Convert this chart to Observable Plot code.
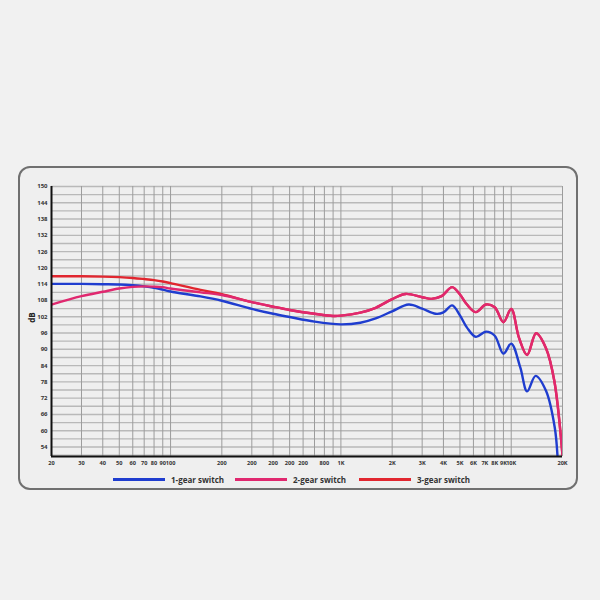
<!DOCTYPE html>
<html>
<head>
<meta charset="utf-8">
<script src="https://cdn.jsdelivr.net/npm/d3@7"></script>
<script src="https://cdn.jsdelivr.net/npm/@observablehq/plot@0.6"></script>
<style>
  html, body { margin: 0; padding: 0; }
  body { width: 600px; height: 600px; background: #f1f1f1; position: relative; overflow: hidden; font-family: "Open Sans", "DejaVu Sans", sans-serif; }
  #box { position: absolute; left: 18px; top: 166px; width: 560px; height: 324px; box-sizing: border-box; border: 2px solid #707070; border-radius: 12px; background: #efefef; }
  #chart { position: absolute; left: 0; top: 166px; }
  #legend { position: absolute; top: 471px; left: 0; width: 600px; height: 16px; }
  .item { position: absolute; top: 0; height: 16px; display: flex; align-items: center; font-size: 8px; font-weight: 700; color: #333; white-space: nowrap; }
  .swatch { width: 52px; height: 3px; margin-right: 6px; }
  #ylab { position: absolute; left: 26px; top: 312px; font-size: 8px; font-weight: 700; color: #222; transform: rotate(-90deg); transform-origin: center; }
</style>
</head>
<body>
<div id="box"></div>
<div id="chart"></div>
<div id="ylab">dB</div>
<div id="legend"></div>
<script>
// ---- data ----
const seriesNames = ["1-gear switch", "2-gear switch", "3-gear switch"];
const seriesColors = ["#1f3dcf", "#e0286f", "#e1262f"];

const gear1Freq = [20, 30, 40, 50, 60, 70, 80, 90, 100, 150, 200, 300, 400, 500, 700, 1000, 1300, 1600, 2000, 2500, 3000, 3600, 4000, 4500, 5000, 5500, 6200, 7100, 8000, 9000, 10000, 11300, 12400, 13900, 16000, 18000, 18700];
const gear1dB   = [114.1, 114.1, 114.0, 113.9, 113.6, 113.2, 112.7, 112.0, 111.3, 109.5, 107.9, 104.9, 103.1, 101.9, 100.2, 99.2, 99.8, 101.4, 104.0, 106.5, 105.0, 103.1, 103.6, 106.2, 102.5, 98.0, 94.6, 96.5, 95.0, 88.4, 92.1, 83.3, 74.5, 80.2, 74.7, 61.3, 50.5];

const gear2Freq = [20, 30, 40, 50, 60, 70, 80, 90, 100, 150, 200, 300, 400, 500, 700, 900, 1000, 1300, 1600, 2000, 2400, 3000, 3400, 3900, 4500, 5000, 5500, 6200, 7100, 8000, 9000, 10000, 11100, 12400, 14000, 16000, 17900, 20000];
const gear2dB   = [106.5, 109.6, 111.2, 112.4, 113.0, 113.2, 113.1, 112.9, 112.4, 111.0, 110.0, 107.4, 105.7, 104.5, 103.1, 102.3, 102.4, 103.5, 105.3, 108.5, 110.4, 109.2, 108.6, 109.6, 112.9, 110.2, 106.5, 103.7, 106.5, 105.5, 100.0, 104.9, 94.3, 87.9, 95.9, 90.4, 78.4, 50.9];

const gear3Freq = [20, 30, 40, 50, 60, 70, 80, 90, 100, 150, 200, 300, 400, 500, 700, 900, 1000, 1300, 1600, 2000, 2400, 3000, 3400, 3900, 4500, 5000, 5500, 6200, 7100, 8000, 9000, 10000, 11100, 12400, 14000, 16000, 17900, 20000];
const gear3dB   = [116.9, 116.9, 116.8, 116.6, 116.3, 115.9, 115.5, 115.0, 114.4, 111.9, 110.3, 107.4, 105.7, 104.5, 103.1, 102.3, 102.4, 103.5, 105.3, 108.5, 110.4, 109.2, 108.6, 109.6, 112.9, 110.2, 106.5, 103.7, 106.5, 105.5, 100.0, 104.9, 94.3, 87.9, 95.9, 90.4, 78.4, 50.9];

const xTickValues = [20, 30, 40, 50, 60, 70, 80, 90, 100, 200, 300, 400, 500, 600, 800, 1000, 2000, 3000, 4000, 5000, 6000, 7000, 8000, 9000, 10000, 20000];
const xTickLabels = ["20", "30", "40", "50", "60", "70", "80", "90", "100", "200", "200", "200", "200", "200", "800", "1K", "2K", "3K", "4K", "5K", "6K", "7K", "8K", "9K", "10K", "20K"];
const xGridValues = [30, 40, 50, 60, 70, 80, 90, 100, 200, 300, 400, 500, 600, 700, 800, 900, 1000, 2000, 3000, 4000, 5000, 6000, 7000, 8000, 9000, 10000, 20000];
const yTickValues = [54, 60, 66, 72, 78, 84, 90, 96, 102, 108, 114, 120, 126, 132, 138, 144, 150];
const yGridValues = [51, 54, 57, 60, 63, 66, 69, 72, 75, 78, 81, 84, 87, 90, 93, 96, 99, 102, 105, 108, 111, 114, 117, 120, 123, 126, 129, 132, 135, 138, 141, 144, 147, 150];
const yDomain = [50.5, 150];
const xDomain = [20, 20000];

// ---- build ----
const toRows = (fs, vs, name) => fs.map((f, i) => ({f, v: vs[i], name}));
const g1 = toRows(gear1Freq, gear1dB, seriesNames[0]);
const g2 = toRows(gear2Freq, gear2dB, seriesNames[1]);
const g3 = toRows(gear3Freq, gear3dB, seriesNames[2]);
const xTicks = xTickValues.map((v, i) => ({v, label: xTickLabels[i]}));

const chart = Plot.plot({
  width: 600,
  height: 305,
  marginLeft: 51,
  marginRight: 38,
  marginTop: 20,
  marginBottom: 15,
  style: {background: "transparent", fontFamily: "'Open Sans', 'DejaVu Sans', sans-serif"},
  x: {type: "log", domain: xDomain, axis: null},
  y: {domain: yDomain, axis: null},
  marks: [
    Plot.ruleY(yGridValues, {stroke: "#b9b9b9", strokeWidth: 1.4}),
    Plot.ruleX(xGridValues, {stroke: "#9c9c9c", strokeWidth: 1}),
    Plot.line(g1, {x: "f", y: "v", stroke: seriesColors[0], strokeWidth: 2.4, curve: "catmull-rom", clip: true}),
    Plot.line(g3, {x: "f", y: "v", stroke: seriesColors[2], strokeWidth: 2.4, curve: "catmull-rom", clip: true}),
    Plot.line(g2, {x: "f", y: "v", stroke: seriesColors[1], strokeWidth: 2.4, curve: "catmull-rom", clip: true}),
    Plot.text(xTicks, {x: "v", text: "label", frameAnchor: "bottom", dy: 7, lineAnchor: "middle", fontSize: 5.6, fontWeight: 700, fill: "#333", letterSpacing: "-0.2px"}),
    Plot.text(yTickValues, {y: d => d, text: d => String(d), frameAnchor: "left", dx: -4, textAnchor: "end", fontSize: 6, fontWeight: 700, fill: "#333"}),
    Plot.ruleX([20], {stroke: "#111", strokeWidth: 2}),
    Plot.ruleY([yDomain[0]], {stroke: "#111", strokeWidth: 2})
  ]
});
document.getElementById("chart").appendChild(chart);

// legend
const legend = document.getElementById("legend");
const legendLefts = [113, 235, 359];
seriesNames.forEach((name, i) => {
  const item = document.createElement("div");
  item.className = "item";
  item.style.left = legendLefts[i] + "px";
  const sw = document.createElement("span");
  sw.className = "swatch";
  sw.style.background = seriesColors[i];
  const tx = document.createElement("span");
  tx.textContent = name;
  item.appendChild(sw);
  item.appendChild(tx);
  legend.appendChild(item);
});
</script>
</body>
</html>
